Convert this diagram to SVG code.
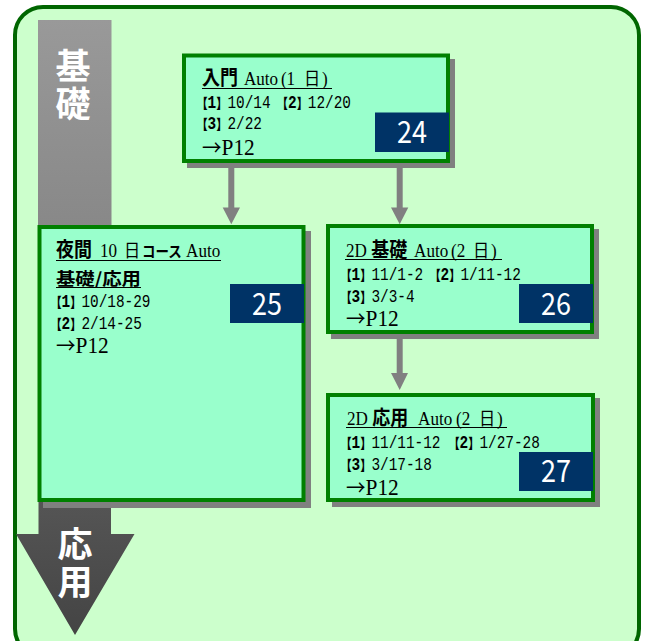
<svg xmlns="http://www.w3.org/2000/svg" width="648" height="641" viewBox="0 0 648 641">
<style>
text{font-family:"Liberation Serif","Noto Sans CJK JP",serif;fill:#000;white-space:pre}
.box{fill:#99ffcc;stroke:#008000;stroke-width:4}
.sh{fill:#808080}
.nv{fill:#003366}
.num{font-family:"Noto Sans CJK JP","Liberation Sans",sans-serif;font-size:31px;fill:#fff;text-anchor:middle}
.j{font-family:"Noto Sans CJK JP",sans-serif;font-size:20px;font-weight:700}
.c{font-family:"Noto Sans CJK JP",sans-serif;font-size:15px;font-weight:700}
.k{font-family:"Noto Sans CJK JP",sans-serif;font-size:18px;font-weight:400}
.a{font-family:"Liberation Serif",serif;font-size:19px}
.d{font-family:"Liberation Mono",monospace;font-size:18px}
.e{font-family:"Liberation Mono",monospace;font-size:18px;font-weight:700}
.b{font-family:"Noto Sans CJK JP",sans-serif;font-size:14px;font-weight:900}
.r{font-family:"Noto Sans CJK JP",sans-serif;font-size:21px;font-weight:400}
.p{font-family:"Liberation Serif",serif;font-size:23px}
.h{font-family:"Noto Sans CJK JP",sans-serif;font-size:17px;font-weight:700}
.ul{stroke:#000;stroke-width:1.200;fill:none}
.big{font-family:"Noto Sans CJK JP",sans-serif;font-size:35px;font-weight:700;fill:#fff;writing-mode:vertical-rl;letter-spacing:3px}
.conn{stroke:#808080;stroke-width:6;fill:none}
.head{fill:#808080}
</style>
<defs>
<linearGradient id="g1" x1="0" y1="0" x2="0" y2="1"><stop offset="0" stop-color="#999"/><stop offset="1" stop-color="#888"/></linearGradient>
<linearGradient id="g2" x1="0" y1="0" x2="0" y2="1"><stop offset="0" stop-color="#555"/><stop offset="1" stop-color="#444"/></linearGradient>
</defs>
<g id="frame"><rect x="15" y="7" width="624" height="650" rx="28" fill="#ccffcc" stroke="#006600" stroke-width="4"/></g>
<g id="arrow-basic"><rect x="38" y="20" width="73.500" height="208" fill="url(#g1)"/>
<text class="big" x="73" y="48">基礎</text></g>
<g id="arrow-applied"><path d="M38.500 500H111V534H134.500L75 635L16 534H38.500Z" fill="url(#g2)"/></g>
<g id="connectors">
<path class="conn" d="M231.300 166V208M399.700 166V208M399.700 336V374"/>
<path class="head" d="M222.700 207.500H240L231.300 224.300ZM391 207.500H408.300L399.700 224.300ZM391 373H408L399.700 390Z"/>
</g>
<g id="node-24"><rect class="sh" x="187" y="59" width="268" height="109"/><rect class="box" x="184" y="55.500" width="264" height="105.500"/><rect class="nv" x="375" y="112.500" width="74" height="39.500"/>
<text class="num" x="412" y="143" textLength="30" lengthAdjust="spacingAndGlyphs">24</text>
<text transform="translate(202 85) scale(.9 1)"><tspan class="j">入門</tspan><tspan class="a" dx="1.900"> Auto</tspan><tspan class="a" dx="3.100">(1 </tspan><tspan class="k" dx="5">日</tspan><tspan class="a" dx="2">)</tspan></text><path class="ul" d="M202 88.500H332"/>
<text transform="translate(196.400 108) scale(.8 1)"><tspan class="b">【</tspan><tspan class="e">1</tspan><tspan class="b">】</tspan><tspan class="d">10/14</tspan><tspan class="b" dx="4.600"> 【</tspan><tspan class="e">2</tspan><tspan class="b">】</tspan><tspan class="d">12/20</tspan></text>
<text transform="translate(196.400 129) scale(.8 1)"><tspan class="b">【</tspan><tspan class="e">3</tspan><tspan class="b">】</tspan><tspan class="d">2/22</tspan></text>
<text transform="translate(202 155) scale(.93 1)"><tspan class="r">→</tspan><tspan class="p">P12</tspan></text></g>
<g id="node-25"><rect class="sh" x="43" y="231" width="268" height="277"/><rect class="box" x="39.500" y="227" width="264" height="273"/><rect class="nv" x="230" y="284" width="74" height="39"/>
<text class="num" x="267" y="315" textLength="30" lengthAdjust="spacingAndGlyphs">25</text>
<text transform="translate(56 257) scale(.9 1)"><tspan class="j">夜間</tspan><tspan class="a" dx="4.100"> 10 </tspan><tspan class="k" dx="3">日</tspan><tspan class="c" dx="2">コース</tspan><tspan class="a"> Auto</tspan></text><path class="ul" d="M56 260.500H221"/>
<text class="h" x="56" y="284.500" textLength="85" lengthAdjust="spacingAndGlyphs">基礎/応用</text><path class="ul" d="M56 287.500H141"/>
<text transform="translate(50.400 306.500) scale(.8 1)"><tspan class="b">【</tspan><tspan class="e">1</tspan><tspan class="b">】</tspan><tspan class="d">10/18-29</tspan></text>
<text transform="translate(50.400 328.500) scale(.8 1)"><tspan class="b">【</tspan><tspan class="e">2</tspan><tspan class="b">】</tspan><tspan class="d">2/14-25</tspan></text>
<text transform="translate(56 353) scale(.93 1)"><tspan class="r">→</tspan><tspan class="p">P12</tspan></text></g>
<g id="node-26"><rect class="sh" x="331" y="229" width="268" height="110"/><rect class="box" x="328" y="226" width="264" height="106"/><rect class="nv" x="519" y="284" width="74" height="39"/>
<text class="num" x="556" y="315" textLength="30" lengthAdjust="spacingAndGlyphs">26</text>
<text transform="translate(346 256.500) scale(.9 1)"><tspan class="a">2D </tspan><tspan class="j">基礎</tspan><tspan class="a" dx="3"> Auto</tspan><tspan class="a" dx="3.100">(2 </tspan><tspan class="k" dx="3.900">日</tspan><tspan class="a" dx="2">)</tspan></text><path class="ul" d="M345 259.500H502"/>
<text transform="translate(340.400 279.500) scale(.8 1)"><tspan class="b">【</tspan><tspan class="e">1</tspan><tspan class="b">】</tspan><tspan class="d">11/1-2</tspan><tspan class="b" dx="4.600"> 【</tspan><tspan class="e">2</tspan><tspan class="b">】</tspan><tspan class="d">1/11-12</tspan></text>
<text transform="translate(340.400 301.500) scale(.8 1)"><tspan class="b">【</tspan><tspan class="e">3</tspan><tspan class="b">】</tspan><tspan class="d">3/3-4</tspan></text>
<text transform="translate(346 326) scale(.93 1)"><tspan class="r">→</tspan><tspan class="p">P12</tspan></text></g>
<g id="node-27"><rect class="sh" x="332" y="398" width="268" height="109"/><rect class="box" x="328" y="395" width="265" height="105"/><rect class="nv" x="519" y="452" width="74" height="39"/>
<text class="num" x="556" y="482" textLength="30" lengthAdjust="spacingAndGlyphs">27</text>
<text transform="translate(347 424.500) scale(.9 1)"><tspan class="a">2D </tspan><tspan class="j">応用</tspan><tspan class="a" dx="1.600">  Auto</tspan><tspan class="a" dx="4.200">(2 </tspan><tspan class="k" dx="5">日</tspan><tspan class="a" dx="2">)</tspan></text><path class="ul" d="M346 427.500H507"/>
<text transform="translate(340.400 447.500) scale(.8 1)"><tspan class="b">【</tspan><tspan class="e">1</tspan><tspan class="b">】</tspan><tspan class="d">11/11-12</tspan><tspan class="b" dx="6.750"> 【</tspan><tspan class="e">2</tspan><tspan class="b">】</tspan><tspan class="d">1/27-28</tspan></text>
<text transform="translate(340.400 469.500) scale(.8 1)"><tspan class="b">【</tspan><tspan class="e">3</tspan><tspan class="b">】</tspan><tspan class="d">3/17-18</tspan></text>
<text transform="translate(346 495) scale(.93 1)"><tspan class="r">→</tspan><tspan class="p">P12</tspan></text></g>
<g id="label-applied"><text class="big" x="75" y="526">応用</text></g>
</svg>
